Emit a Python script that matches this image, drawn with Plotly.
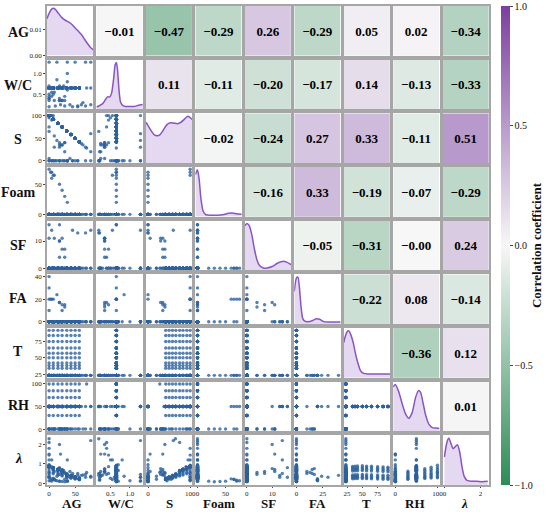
import plotly.graph_objects as go
from plotly.subplots import make_subplots

##### variable names / axis setup
names = ['AG', 'W/C', 'S', 'Foam', 'SF', 'FA', 'T', 'RH', '<i>λ</i>']
ranges = [[-4, 85], [0.14, 1.33], [-5, 105], [-3.75, 78.75], [-0.8, 17.5],
          [-2, 42], [19.5, 95.5], [-5, 105], [-0.1, 2.47]]
xticks = [[0, 50], [0.5, 1.0], [0, 100], [0, 50], [0, 10], [0, 25], [25, 50, 75], [0, 100], [0, 2]]
xtick_text = [['0', '50'], ['0.5', '1.0'], ['0', '100'], ['0', '50'], ['0', '10'], ['0', '25'],
              ['25', '50', '75'], ['0', '100'], ['0', '2']]
yticks = [[0, 0.01], [0.5, 1.0], [0, 50, 100], [0, 50], [0, 10], [0, 20, 40], [25, 50, 75], [0, 50, 100], [0, 1, 2]]
ytick_text = [['0.00', '0.01'], ['0.5', '1.0'], ['0', '50', '100'], ['0', '50'], ['0', '10'], ['0', '20', '40'],
              ['25', '50', '75'], ['0', '50', '100'], ['0', '1', '2']]

##### correlation coefficients (upper triangle, row by row)
corr_rows = [
    [-0.01, -0.47, -0.29, 0.26, -0.29, 0.05, 0.02, -0.34],
    [0.11, -0.11, -0.20, -0.17, 0.14, -0.13, -0.33],
    [-0.02, -0.24, 0.27, 0.33, -0.11, 0.51],
    [-0.16, 0.33, -0.19, -0.07, -0.29],
    [-0.05, -0.31, -0.0, 0.24],
    [-0.22, 0.08, -0.14],
    [-0.36, 0.12],
    [0.01],
]

##### samples: plain mixes / foamed / silica fume / fly ash
ag = [0, 0, 0, 0, 0, 0, 0, 5, 8, 10, 12, 15, 20, 22, 35, 35, 35, 35, 40, 50, 55, 62, 70, 80, 80, 45, 30, 72, 65, 28,
      0, 3, 5, 8, 10, 5, 20, 25, 30, 35,
      0, 20, 45, 55, 70, 80, 5, 0, 10, 20, 25, 30, 25, 20,
      0, 0, 15, 0, 20, 30]
wc = [0.20, 0.40, 0.40, 0.45, 0.50, 0.70, 1.27, 0.45, 0.50, 0.65, 0.22, 1.27, 0.70, 0.25, 1.27, 1.00, 0.80, 0.60,
      0.25, 1.27, 0.22, 0.25, 1.27, 0.25, 0.65, 0.65, 0.22, 0.65, 0.30, 0.70,
      0.65, 0.65, 0.65, 0.65, 0.55, 0.65, 0.65, 0.65, 0.65, 0.65,
      0.65, 0.65, 0.20, 0.20, 0.22, 1.27, 0.55, 0.35, 0.35, 0.35, 0.35, 0.35, 0.35, 0.35,
      0.65, 0.65, 0.85, 0.65, 0.40, 0.45]
s = [65, 75, 100, 100, 95, 0, 100, 90, 0, 55, 0, 45, 0, 35, 0, 0, 0, 0, 5, 0, 0, 38, 30, 20, 0, 0, 20, 28, 35, 0,
     100, 100, 0, 100, 0, 0, 0, 0, 0, 0,
     0, 0, 0, 0, 0, 60, 100, 5, 30, 40, 35, 40, 35, 30,
     100, 100, 0, 100, 35, 40]
foam = [0] * 30 + [75, 70, 70, 65, 65, 60, 50, 40, 30, 20] + [0] * 14 + [0] * 6
sf = [0] * 30 + [0] * 10 + [16, 16, 14, 13, 13, 14, 14, 11, 11, 10, 7, 4, 11, 10] + [0, 0, 0, 0, 4, 7]
fa = [0] * 30 + [20, 20, 0, 20, 0, 20, 0, 0, 0, 0] + [0, 0, 0, 0, 0, 0, 0, 0, 0, 0, 10, 13, 15, 17] + [40, 30, 24, 10, 17, 15]
t = [23] * 60
rh = [50, 50, 50, 0, 0, 0, 50, 0, 50, 0, 0, 50, 0, 0, 50, 0, 50, 0, 0, 50, 0, 50, 0, 0, 50, 0, 0, 100, 0, 50,
      50, 50, 0, 50, 0, 50, 0, 0, 0, 0,
      50, 50, 50, 50, 50, 50, 50, 0, 0, 50, 0, 0, 0, 0,
      50, 50, 50, 50, 0, 0]
lam = [2.30, 2.10, 1.80, 1.45, 1.20, 0.95, 0.30, 0.85, 0.25, 0.20, 0.15, 0.12, 0.10, 1.50, 0.10, 0.12, 1.20, 0.30,
       0.60, 0.30, 0.50, 0.40, 0.45, 0.35, 0.30, 0.40, 0.20, 0.55, 0.42, 0.65,
       0.12, 0.15, 0.10, 0.20, 0.18, 0.22, 0.10, 0.08, 0.07, 0.10,
       0.30, 0.80, 0.50, 0.40, 0.30, 2.20, 1.20, 1.50, 0.60, 2.00, 0.60, 0.55, 0.70, 0.75,
       0.40, 0.30, 0.35, 0.50, 0.45, 0.50]

##### temperature / humidity test grid (W/C 0.65, aggregate replacing sand)
grid_ag = [0, 8, 17, 25, 34, 42, 50, 58]
grid_s = [100, 92, 83, 75, 66, 58, 50, 42]
grid_t = [23, 23, 23, 23, 23, 34, 38, 42, 50, 57, 65, 75, 84, 92]
grid_rh = [0, 30, 70, 85, 100, 50, 50, 50, 50, 50, 50, 50, 50, 50]
grid_lam = [
    [0.55, 0.48, 0.42, 0.36, 0.30, 0.25, 0.21, 0.17],
    [0.62, 0.55, 0.48, 0.41, 0.34, 0.28, 0.23, 0.19],
    [0.74, 0.66, 0.58, 0.50, 0.42, 0.35, 0.29, 0.24],
    [0.82, 0.72, 0.63, 0.54, 0.46, 0.38, 0.31, 0.26],
    [0.92, 0.80, 0.70, 0.60, 0.50, 0.41, 0.33, 0.27],
    [0.86, 0.78, 0.70, 0.62, 0.42, 0.35, 0.28, 0.22],
    [0.88, 0.79, 0.71, 0.63, 0.43, 0.36, 0.29, 0.23],
    [0.89, 0.80, 0.72, 0.64, 0.44, 0.36, 0.30, 0.24],
    [0.90, 0.81, 0.73, 0.65, 0.45, 0.37, 0.30, 0.24],
    [0.88, 0.80, 0.72, 0.63, 0.44, 0.36, 0.29, 0.23],
    [0.87, 0.79, 0.70, 0.62, 0.43, 0.35, 0.28, 0.22],
    [0.85, 0.77, 0.69, 0.61, 0.42, 0.34, 0.27, 0.21],
    [0.84, 0.76, 0.68, 0.60, 0.41, 0.33, 0.26, 0.20],
    [0.82, 0.74, 0.66, 0.58, 0.40, 0.32, 0.25, 0.19],
]
for t_val, rh_val, lam_row in zip(grid_t, grid_rh, grid_lam):
    n = len(grid_ag)
    ag += grid_ag
    s += grid_s
    wc += [0.65] * n
    foam += [0] * n
    sf += [0] * n
    fa += [0] * n
    t += [t_val] * n
    rh += [rh_val] * n
    lam += lam_row

cols = [ag, wc, s, foam, sf, fa, t, rh, lam]

##### diagonal KDE curves (AG in density units, others relative)
kde_x = [
    [-4, 0, 5, 8, 12, 18, 25, 32, 38, 44, 50, 56, 62, 68, 74, 80, 85],
    [0.14, 0.2, 0.3, 0.38, 0.43, 0.48, 0.53, 0.58, 0.62, 0.65, 0.68, 0.72, 0.76, 0.82, 0.9, 1.0, 1.1, 1.2, 1.33],
    [-5, 0, 8, 15, 22, 28, 36, 45, 53, 62, 70, 78, 86, 94, 100, 105],
    [-3.75, 0, 3, 6, 10, 15, 25, 35, 45, 55, 62, 70, 78.75],
    [-0.8, 0, 1, 2, 3, 4, 5, 6.5, 8, 10, 12, 14, 15.5, 17.5],
    [-2, 0, 1.5, 3, 4.5, 6, 8, 11, 15, 19, 22, 26, 32, 37, 42],
    [19.5, 22, 25, 28, 31, 35, 39, 43, 47, 52, 60, 70, 80, 95.5],
    [-5, 0, 8, 16, 24, 32, 40, 48, 55, 60, 66, 72, 80, 88, 96, 105],
    [0.0, 0.1, 0.2, 0.25, 0.35, 0.48, 0.6, 0.72, 0.85, 0.97, 1.1, 1.25, 1.5, 1.8, 2.1, 2.4],
]
kde_y = [
    [0.0140, 0.0160, 0.0176, 0.0179, 0.0175, 0.0160, 0.0143, 0.0133, 0.0127, 0.0118, 0.0105, 0.0093,
     0.0080, 0.0062, 0.0045, 0.0030, 0.0022],
    [0.05, 0.07, 0.12, 0.22, 0.27, 0.26, 0.35, 0.65, 0.95, 1.0, 0.85, 0.4, 0.15, 0.08, 0.06, 0.06, 0.06, 0.08, 0.1],
    [0.87, 0.80, 0.68, 0.60, 0.58, 0.60, 0.70, 0.82, 0.86, 0.85, 0.84, 0.87, 0.93, 1.0, 0.97, 0.93],
    [0.9, 1.0, 0.8, 0.4, 0.12, 0.04, 0.03, 0.03, 0.04, 0.07, 0.08, 0.06, 0.05],
    [0.95, 1.0, 0.95, 0.75, 0.45, 0.22, 0.1, 0.05, 0.05, 0.08, 0.15, 0.19, 0.18, 0.12],
    [0.7, 0.98, 1.0, 0.75, 0.35, 0.12, 0.06, 0.05, 0.07, 0.11, 0.1, 0.05, 0.04, 0.04, 0.04],
    [0.75, 0.88, 0.98, 1.0, 0.92, 0.75, 0.5, 0.3, 0.15, 0.09, 0.08, 0.08, 0.08, 0.08],
    [0.95, 1.0, 0.85, 0.6, 0.38, 0.28, 0.4, 0.72, 0.87, 0.83, 0.6, 0.35, 0.15, 0.08, 0.07, 0.06],
    [0.6, 0.85, 0.98, 1.0, 0.9, 0.78, 0.82, 0.86, 0.7, 0.4, 0.18, 0.1, 0.08, 0.08, 0.07, 0.08],
]

serif = 'Liberation Serif'
colorscale = [[0, '#2e8b57'], [0.5, '#f7f7f7'], [1, '#7b3fa0']]

fig = make_subplots(rows=9, cols=9, horizontal_spacing=0.007, vertical_spacing=0.0085)

for i in range(9):
    for j in range(9):
        r, c = i + 1, j + 1
        if i > j:
            fig.add_trace(go.Scatter(x=cols[j], y=cols[i], mode='markers',
                                     marker=dict(size=3.4, color='rgba(44,98,158,0.8)'),
                                     hoverinfo='skip'), row=r, col=c)
            xr, yr = ranges[j], ranges[i]
        elif i == j:
            fig.add_trace(go.Scatter(x=kde_x[i], y=kde_y[i], mode='lines', line_shape='spline',
                                     line=dict(color='#8a55c0', width=1.5, smoothing=0.6), fill='tozeroy',
                                     fillcolor='rgba(150,100,200,0.25)', hoverinfo='skip'), row=r, col=c)
            xr = ranges[j]
            yr = [0, 0.0188] if i == 0 else [0, 1.06]
        else:
            v = corr_rows[i][j - i - 1]
            lbl = f'{v:.2f}'.replace('-', '−')
            fig.add_trace(go.Heatmap(z=[[v]], x=[0], y=[0], coloraxis='coloraxis', text=[[lbl]],
                                     texttemplate='<b>%{text}</b>',
                                     textfont=dict(family=serif, size=13, color='black'),
                                     hoverinfo='skip'), row=r, col=c)
            xr, yr = [-0.5, 0.5], [-0.5, 0.5]

        show_x = (i == 8)
        show_y = (j == 0)
        fig.update_xaxes(range=xr, showgrid=False, zeroline=False, showline=True, mirror=True,
                         linecolor='#a6a6a6', linewidth=1.5,
                         showticklabels=show_x, ticks='outside' if show_x else '',
                         ticklen=1, tickcolor='#444',
                         tickvals=xticks[j] if show_x else None,
                         ticktext=xtick_text[j] if show_x else None,
                         tickfont=dict(family=serif, size=7, color='#222'),
                         row=r, col=c)
        fig.update_yaxes(range=yr, showgrid=False, zeroline=False, showline=True, mirror=True,
                         linecolor='#a6a6a6', linewidth=1.5,
                         showticklabels=show_y, ticks='outside' if show_y else '',
                         ticklen=2, tickcolor='#444',
                         tickvals=yticks[i] if show_y else None,
                         ticktext=ytick_text[i] if show_y else None,
                         tickfont=dict(family=serif, size=7, color='#222'),
                         row=r, col=c)

##### row and column labels
for k, name in enumerate(names):
    yc = 1 - (k + 0.5) / 9
    xc = (k + 0.5) / 9
    fig.add_annotation(text=f'<b>{name}</b>', xref='paper', yref='paper', x=-0.065, y=yc,
                       xanchor='center', yanchor='middle', showarrow=False,
                       font=dict(family=serif, size=14, color='#111'))
    fig.add_annotation(text=f'<b>{name}</b>', xref='paper', yref='paper', x=xc, y=-0.038,
                       xanchor='center', yanchor='middle', showarrow=False,
                       font=dict(family=serif, size=13, color='#111'))

fig.update_layout(
    width=550, height=512,
    margin=dict(l=47, r=61, t=6, b=27, autoexpand=False),
    paper_bgcolor='white', plot_bgcolor='white',
    showlegend=False,
    coloraxis=dict(
        cmin=-1, cmax=1, colorscale=colorscale,
        colorbar=dict(x=1.027, xanchor='left', xpad=0, ypad=0, y=0.5, yanchor='middle',
                      len=1.0, thickness=9, outlinewidth=0,
                      tickvals=[-1, -0.5, 0, 0.5, 1],
                      ticktext=['−1.0', '−0.5', '0.0', '0.5', '1.0'],
                      ticks='outside', ticklen=3,
                      tickfont=dict(family=serif, size=10, color='#111'),
                      title=dict(text='<b>Correlation coefficient</b>', side='right',
                                 font=dict(family=serif, size=13, color='#111'))),
    ),
)

# the page has a default 8px body margin; drop it so the figure sits at the window corner
fig.write_html('out.html', config={'displayModeBar': False},
               post_script="document.body.style.margin='0px';")
